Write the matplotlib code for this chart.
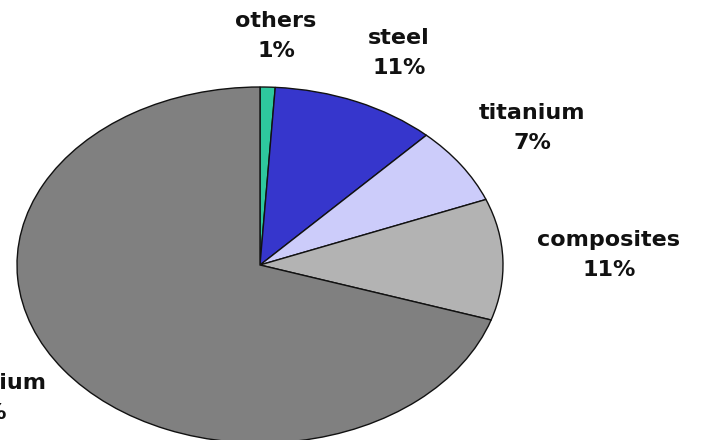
import matplotlib as mpl
import matplotlib.pyplot as plt
import numpy as np


# Share of materials, clockwise from twelve o'clock
materials = ["others", "steel", "titanium", "composites", "aluminium"]
shares = [1, 11, 7, 11, 70]
sliceColors = ["#2ec89e", "#3636cc", "#ccccfa", "#b3b3b3", "#808080"]

# Label block centres in pixels (x from left, y from top)
labelPixels = [(276, 36), (399, 53), (532, 128), (609, 255), (-20, 398)]

figW, figH, dpi = 710, 440, 100
pieCenter = (260, 265)
pieRadiusX, pieRadiusY = 243, 178


def pixelToData(px, py):
    return ((px - pieCenter[0]) / pieRadiusX, (pieCenter[1] - py) / pieRadiusY)
#end-def


fig = plt.figure(figsize=(figW / dpi, figH / dpi), dpi=dpi)
ax = fig.add_axes([0, 0, 1, 1])

ax.pie(shares,
       colors=sliceColors,
       startangle=90,
       counterclock=False,
       radius=1.0,
       wedgeprops={"edgecolor": "#111111", "linewidth": 1.0})

# stretch the pie into the wide ellipse of the original chart
ax.set_aspect("auto")
x0, y0 = pixelToData(0, figH)
x1, y1 = pixelToData(figW, 0)
ax.set_xlim(x0, x1)
ax.set_ylim(y0, y1)
ax.axis("off")

for name, share, (px, py) in zip(materials, shares, labelPixels):
    tx, ty = pixelToData(px, py)
    ax.text(tx, ty, f"{name}\n{share}%",
            ha="center", va="center",
            fontsize=16, fontweight="bold", family="DejaVu Sans",
            linespacing=1.65, color="#111111")
#end-for

plt.savefig("out.png", dpi=dpi)
